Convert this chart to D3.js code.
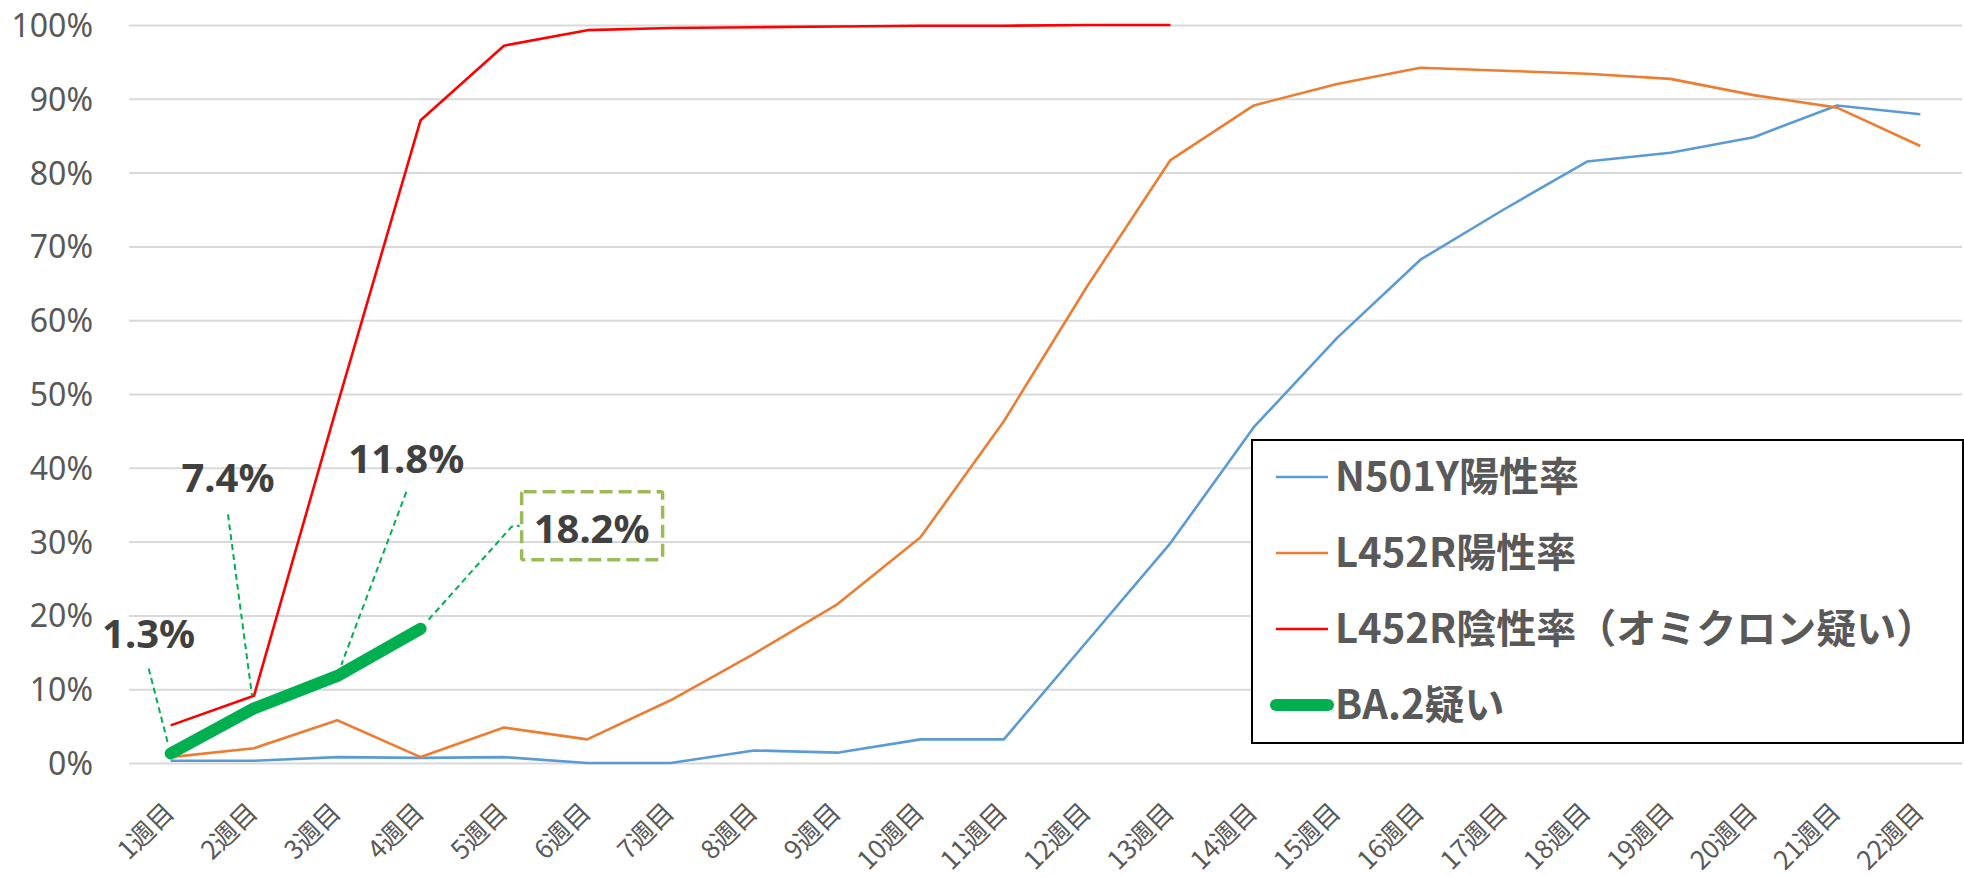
<!DOCTYPE html>
<html lang="ja">
<head>
<meta charset="utf-8">
<title>BA.2</title>
<script src="https://cdnjs.cloudflare.com/ajax/libs/d3/7.8.5/d3.min.js"></script>
<style>
  body { margin: 0; background: #fff; }
  .y-axis text { font-family: "Noto Sans", sans-serif; font-size: 32px; fill: #595959; }
  .x-axis text { font-family: "Noto Sans CJK JP", sans-serif; font-size: 26px; fill: #595959; }
  .grid line { stroke: #d9d9d9; stroke-width: 2; }
  .data-label { font-family: "Noto Sans", sans-serif; font-weight: bold; font-size: 40px; fill: #404040; }
  .legend text { font-family: "Noto Sans CJK JP", sans-serif; font-weight: bold; font-size: 40px; fill: #595959; }
</style>
</head>
<body>
<div id="chart"></div>
<script>
// categories
const weeks = ["1週目", "2週目", "3週目", "4週目", "5週目", "6週目", "7週目", "8週目", "9週目", "10週目", "11週目",
  "12週目", "13週目", "14週目", "15週目", "16週目", "17週目", "18週目", "19週目", "20週目", "21週目", "22週目"];

// series values (%)
const n501y = [0.3, 0.3, 0.8, 0.7, 0.8, 0, 0, 1.7, 1.4, 3.2, 3.2, 16.5, 29.8, 45.5, 57.6, 68.2, 75.0, 81.5, 82.7, 84.8, 89.1, 87.9];
const l452rPos = [0.8, 2.0, 5.8, 0.8, 4.8, 3.2, 8.5, 14.8, 21.5, 30.6, 46.3, 64.6, 81.7, 89.1, 92.0, 94.2, 93.8, 93.4, 92.7, 90.5, 88.8, 83.6];
const l452rNeg = [5.1, 9.1, 48.5, 87.1, 97.2, 99.3, 99.6, 99.7, 99.8, 99.9, 99.9, 100, 100];
const ba2 = [1.3, 7.4, 11.8, 18.2];

const seriesNames = ["N501Y陽性率", "L452R陽性率", "L452R陰性率（オミクロン疑い）", "BA.2疑い"];
const yTicks = [0, 10, 20, 30, 40, 50, 60, 70, 80, 90, 100];

const width = 1964, height = 877;
const margin = {left: 129, right: 2, top: 25, bottom: 114};

const svg = d3.select("#chart").append("svg")
  .attr("width", width)
  .attr("height", height);

const x = d3.scaleBand()
  .domain(weeks)
  .range([margin.left, width - margin.right]);
const xc = d => x(d) + x.bandwidth() / 2;

const y = d3.scaleLinear()
  .domain([0, 100])
  .range([height - margin.bottom, margin.top]);

// y axis + gridlines
svg.append("g")
  .attr("class", "y-axis grid")
  .attr("transform", `translate(${margin.left},0)`)
  .call(d3.axisLeft(y).tickValues(yTicks).tickFormat(d => d + "%")
    .tickSize(-(width - margin.left - margin.right)).tickPadding(36))
  .call(g => g.select(".domain").remove())
  .call(g => g.selectAll("text").attr("dy", "0.36em"));

// x axis labels (rotated)
svg.append("g")
  .attr("class", "x-axis")
  .attr("transform", `translate(0,${height - margin.bottom})`)
  .call(d3.axisBottom(x).tickSize(0))
  .call(g => g.select(".domain").remove())
  .call(g => g.selectAll("text")
    .attr("text-anchor", "end")
    .attr("dominant-baseline", "central")
    .attr("y", 0).attr("dy", 0)
    .attr("transform", "translate(-3,43) rotate(-45)"));

const line = d3.line()
  .x((d, i) => xc(weeks[i]))
  .y(d => y(d));

const series = [
  {values: n501y, color: "#5b9bd5", w: 2.6},
  {values: l452rPos, color: "#ed7d31", w: 2.6},
  {values: l452rNeg, color: "#ff0000", w: 2.6},
  {values: ba2, color: "#00b050", w: 12}
];

svg.append("g").selectAll("path")
  .data(series)
  .join("path")
  .attr("d", d => line(d.values))
  .attr("fill", "none")
  .attr("stroke", d => d.color)
  .attr("stroke-width", d => d.w)
  .attr("stroke-linejoin", "round")
  .attr("stroke-linecap", d => d.w > 5 ? "round" : "butt");

// data labels for BA.2 with leader lines
const labelPos = [[-22, -105], [-26, -216], [69, -203], [171, -86]];
const leaderStart = [[0, 20], [0, 22], [0, 19], null];
const leaderEnd = [[-3, -11], [-2, -13], [4, -11], [8, -9]];

const labels = svg.append("g");
ba2.forEach((v, i) => {
  const px = xc(weeks[i]), py = y(v);
  const lx = px + labelPos[i][0], ly = py + labelPos[i][1];
  let pts;
  if (leaderStart[i]) {
    pts = [[lx + leaderStart[i][0], ly + leaderStart[i][1]], [px + leaderEnd[i][0], py + leaderEnd[i][1]]];
  } else {
    pts = [[px + leaderEnd[i][0], py + leaderEnd[i][1]], [lx - 80, ly - 16], [lx - 72, ly - 17]];
    labels.append("rect")
      .attr("x", lx - 70).attr("y", ly - 51)
      .attr("width", 141).attr("height", 68)
      .attr("rx", 2)
      .attr("fill", "none")
      .attr("stroke", "#9bbb59")
      .attr("stroke-width", 3.5)
      .attr("stroke-dasharray", "13,6");
  }
  labels.append("path")
    .attr("d", d3.line()(pts))
    .attr("fill", "none")
    .attr("stroke", "#00b050")
    .attr("stroke-width", 2)
    .attr("stroke-dasharray", "6,4");
  labels.append("text")
    .attr("class", "data-label")
    .attr("x", lx).attr("y", ly)
    .attr("text-anchor", "middle")
    .text(d3.format(".1f")(v) + "%");
});

// legend
const legend = svg.append("g").attr("class", "legend");
legend.append("rect")
  .attr("x", 1252).attr("y", 440)
  .attr("width", 711).attr("height", 303)
  .attr("fill", "#fff")
  .attr("stroke", "#000")
  .attr("stroke-width", 2);

const rows = legend.selectAll("g.row")
  .data(series)
  .join("g")
  .attr("class", "row")
  .attr("transform", (d, i) => `translate(1276,${477 + i * 76})`);
rows.append("line")
  .attr("x1", 0).attr("x2", 52)
  .attr("stroke", d => d.color)
  .attr("stroke-width", d => d.w)
  .attr("stroke-linecap", d => d.w > 5 ? "round" : "butt");
rows.append("text")
  .attr("x", 59).attr("y", 14)
  .text((d, i) => seriesNames[i]);
</script>
</body>
</html>
